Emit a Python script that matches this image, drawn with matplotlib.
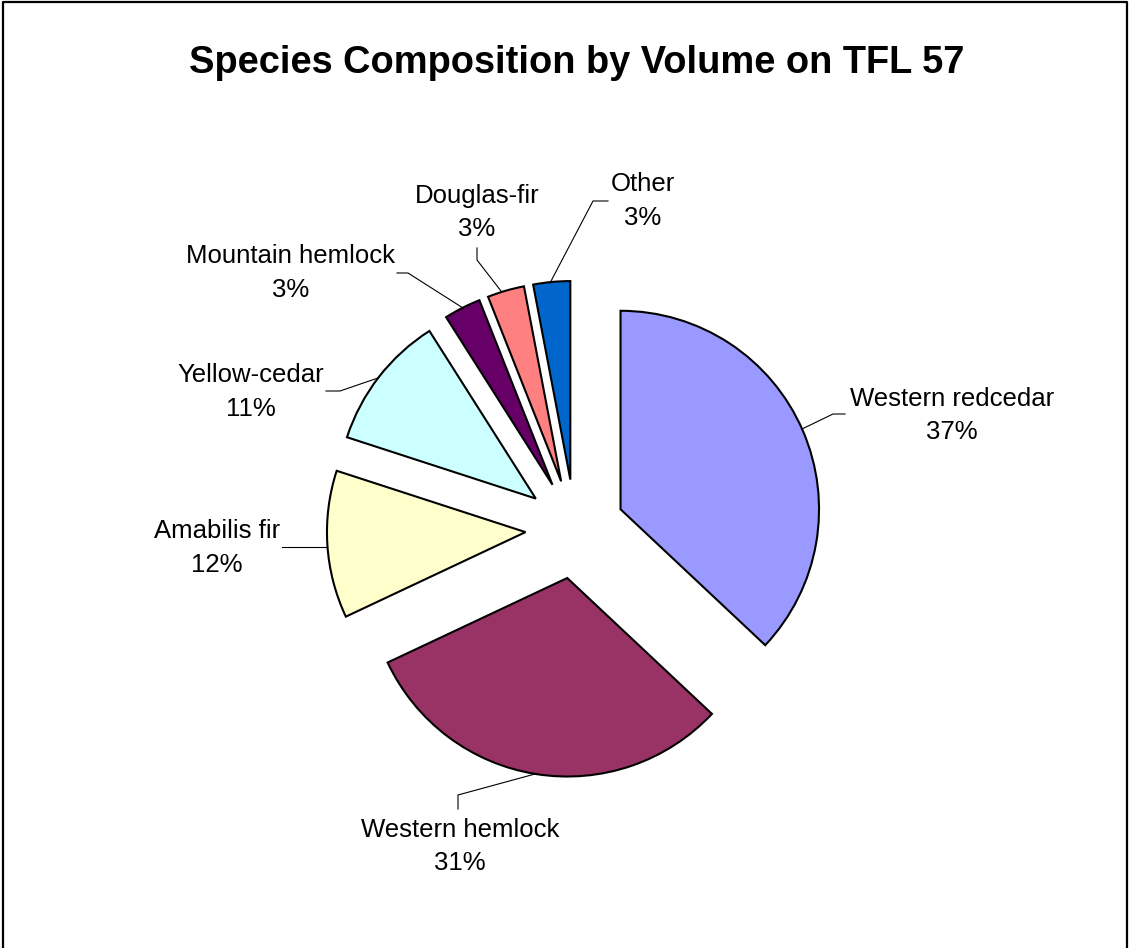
import matplotlib
matplotlib.use("Agg")
import matplotlib.pyplot as plt
from matplotlib.lines import Line2D

# Species share of total volume (%)
species = ["Western redcedar", "Western hemlock", "Amabilis fir", "Yellow-cedar",
           "Mountain hemlock", "Douglas-fir", "Other"]
share = [37, 31, 12, 11, 3, 3, 3]
colors = ["#9999FF", "#993366", "#FFFFCC", "#CCFFFF", "#660066", "#FF8080", "#0066CC"]

title = "Species Composition by Volume on TFL 57"

# Layout in pixels (x from left, y from top)
W, H = 1129, 948
cx, cy, R = 575, 529, 198.5
explode_frac = 0.25

label_pos = [(952, 415.5), (460, 846.5), (217, 548), (251, 392),
             (291, 273), (477, 212.5), (643, 201)]
leaders = [
    [(802, 429), (833, 414), (845, 414)],
    [(535, 774), (458, 795), (458, 809)],
    [(282, 547), (327, 547)],
    [(326, 391), (340, 391), (378, 378)],
    [(397, 273), (408, 273), (463, 308)],
    [(477, 248), (477, 260), (501, 291)],
    [(608, 201), (593, 201), (550, 283)],
]

plt.rcParams["font.family"] = ["Liberation Sans", "DejaVu Sans"]

fig = plt.figure(figsize=(W / 100, H / 100), dpi=100)
fig.patch.set_facecolor("white")

# Pie axes: one data unit equals one radius
ax = fig.add_axes([0, 0, 1, 1])
ax.pie(share, colors=colors, startangle=90, counterclock=False,
       explode=[explode_frac] * len(share), radius=1,
       wedgeprops=dict(edgecolor="black", linewidth=1.5))
ax.set_aspect("auto")
ax.set_xlim(-cx / R, (W - cx) / R)
ax.set_ylim(-(H - cy) / R, cy / R)
ax.axis("off")

# Overlay axes in pixel coordinates for labels, leader lines and border
ov = fig.add_axes([0, 0, 1, 1], facecolor="none")
ov.set_xlim(0, W)
ov.set_ylim(H, 0)
ov.axis("off")

for name, val, (x, y) in zip(species, share, label_pos):
    ov.text(x, y, f"{name}\n{val}%", ha="center", va="center",
            fontsize=18.5, linespacing=1.52, color="black")

for pts in leaders:
    xs, ys = zip(*pts)
    ov.add_line(Line2D(xs, ys, color="black", linewidth=0.8))

ov.text(577, 63, title, ha="center", va="center", fontsize=27.4,
        fontweight="bold", color="black")

# Chart area border (top, left, right)
ov.add_line(Line2D([3, 3, 1127, 1127], [H + 5, 2, 2, H + 5],
                   color="black", linewidth=1.6))

fig.savefig("out.png", dpi=100, facecolor="white")
